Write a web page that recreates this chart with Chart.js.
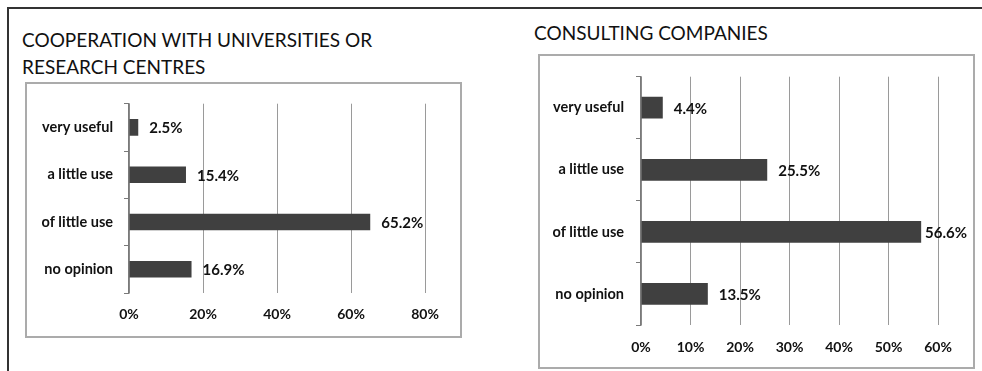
<!DOCTYPE html>
<html>
<head>
<meta charset="utf-8">
<script src="https://cdn.jsdelivr.net/npm/chart.js@4"></script>
<style>
  body { margin: 0; background: #fff; }
  #page { position: relative; width: 982px; height: 371px; overflow: hidden; font-family: Lato, sans-serif; color: #111; }
  .rule { position: absolute; background: #333; }
  .title { position: absolute; font-size: 19px; line-height: 27px; white-space: nowrap; }
  .box { position: absolute; border: 2px solid #ababab; }
  .box canvas { position: absolute; left: 0; top: 0; }
</style>
</head>
<body>
<div id="page">
  <div class="rule" style="left:7px; top:7px; width:975px; height:2px;"></div>
  <div class="rule" style="left:7px; top:7px; width:2px; height:364px;"></div>

  <div class="title" style="left:22px; top:26px;">COOPERATION WITH UNIVERSITIES OR<br>RESEARCH CENTRES</div>
  <div class="box" style="left:25px; top:82px; width:433px; height:252px;">
    <canvas id="universities" width="433" height="252"></canvas>
  </div>

  <div class="title" style="left:534px; top:19px;">CONSULTING COMPANIES</div>
  <div class="box" style="left:538px; top:54px; width:433px; height:311px;">
    <canvas id="consulting" width="433" height="311"></canvas>
  </div>
</div>
<script>
const categories = ["very useful", "a little use", "of little use", "no opinion"];
const universityShares = [2.5, 15.4, 65.2, 16.9];
const consultingShares = [4.4, 25.5, 56.6, 13.5];
const universityTicks = { max: 80, step: 20 };
const consultingTicks = { max: 60, step: 10 };

Chart.defaults.font.family = "Lato, sans-serif";
Chart.defaults.color = "#111";

// percentage next to the end of each bar, kept inside the box
const valueLabels = {
  id: "valueLabels",
  afterDatasetsDraw(chart) {
    const ctx = chart.ctx;
    const values = chart.data.datasets[0].data;
    ctx.save();
    ctx.font = "bold 15px Lato, sans-serif";
    ctx.fillStyle = "#111";
    ctx.textBaseline = "middle";
    chart.getDatasetMeta(0).data.forEach((bar, i) => {
      const text = values[i].toFixed(1) + "%";
      const w = ctx.measureText(text).width;
      const x = Math.min(bar.x + 11, chart.width - 6 - w);
      ctx.fillText(text, x, bar.y + 1);
    });
    ctx.restore();
  }
};

function makeChart(id, shares, ticks, pad) {
  return new Chart(document.getElementById(id), {
    type: "bar",
    data: {
      labels: categories,
      datasets: [{
        data: shares,
        backgroundColor: "#404040",
        borderWidth: 0,
        categoryPercentage: 1,
        barPercentage: 0.35
      }]
    },
    options: {
      indexAxis: "y",
      responsive: false,
      animation: false,
      layout: { padding: { left: pad.left, right: 35, top: pad.top, bottom: 0 } },
      plugins: { legend: { display: false }, tooltip: { enabled: false } },
      scales: {
        x: {
          min: 0,
          max: ticks.max,
          afterFit: s => { s.height = pad.bottom; },
          border: { display: false },
          grid: { color: "#9a9a9a", lineWidth: 1, drawTicks: false },
          ticks: {
            stepSize: ticks.step,
            padding: pad.xPad,
            font: { size: 14, weight: "bold" },
            callback: v => v + "%"
          }
        },
        y: {
          afterFit: s => { s.width = 90; },
          border: { color: "#7a7a7a", width: 1.5 },
          grid: { drawOnChartArea: false, drawTicks: true, tickLength: 5, color: "#7a7a7a" },
          ticks: { padding: pad.yPad, font: { size: 14.5, weight: "bold" } }
        }
      }
    },
    plugins: [valueLabels]
  });
}

makeChart("universities", universityShares, universityTicks,
  { left: 12, top: 19, bottom: 43, xPad: 13, yPad: 11 });
makeChart("consulting", consultingShares, consultingTicks,
  { left: 11, top: 20, bottom: 42, xPad: 14, yPad: 12 });
</script>
</body>
</html>
